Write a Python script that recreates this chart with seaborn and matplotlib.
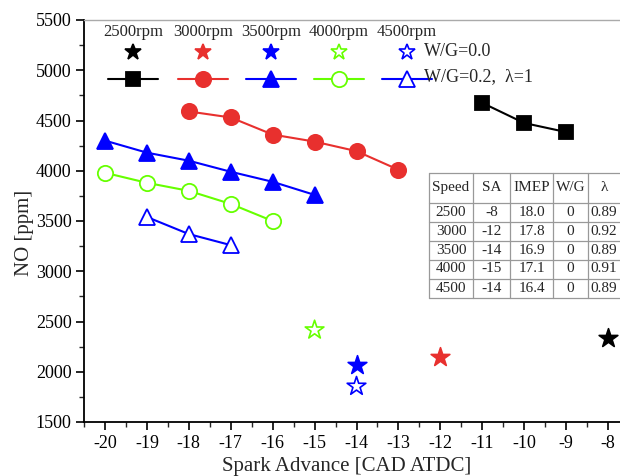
import matplotlib
matplotlib.use("Agg")
import matplotlib.pyplot as plt
import seaborn as sns
import pandas as pd
from matplotlib.ticker import MultipleLocator
from matplotlib.lines import Line2D

sns.set_theme(style="white")
plt.rcParams['font.family'] = ['Liberation Serif', 'DejaVu Serif']
plt.rcParams['axes.unicode_minus'] = False

# W/G=0.2, lambda=1 sweeps
sa_2500 = [-11, -10, -9]
no_2500 = [4675, 4475, 4385]
sa_3000 = [-18, -17, -16, -15, -14, -13]
no_3000 = [4590, 4530, 4360, 4290, 4195, 4010]
sa_3500 = [-20, -19, -18, -17, -16, -15]
no_3500 = [4300, 4180, 4100, 3990, 3890, 3760]
sa_4000 = [-20, -19, -18, -17, -16]
no_4000 = [3980, 3880, 3800, 3670, 3500]
sa_4500 = [-19, -18, -17]
no_4500 = [3540, 3370, 3260]

# W/G=0.0 points (stars)
star_speed = ["2500", "3000", "3500", "4000", "4500"]
star_sa = [-8, -12, -14, -15, -14]
star_no = [2340, 2150, 2070, 2415, 1855]

speed_labels = ["2500rpm", "3000rpm", "3500rpm", "4000rpm", "4500rpm"]

table_header = ["Speed", "SA", "IMEP", "W/G", "λ"]
table_rows = [
    ["2500", "-8", "18.0", "0", "0.89"],
    ["3000", "-12", "17.8", "0", "0.92"],
    ["3500", "-14", "16.9", "0", "0.89"],
    ["4000", "-15", "17.1", "0", "0.91"],
    ["4500", "-14", "16.4", "0", "0.89"],
]

colors = ["black", "#e8302e", "#0000ff", "#66ff00", "#0000ff"]
line_markers = ["s", "o", "^", "o", "^"]
line_fill = [True, True, True, False, False]
line_ms = [10, 11, 12, 11, 12]
star_fill = [True, True, True, False, False]

W, H = 620, 476
fig = plt.figure(figsize=(W / 100, H / 100), dpi=100)
ax = fig.add_axes([84 / W, 1 - 422 / H, 545 / W, 402 / H])

series = [(sa_2500, no_2500), (sa_3000, no_3000), (sa_3500, no_3500),
          (sa_4000, no_4000), (sa_4500, no_4500)]
for i, (xs, ys) in enumerate(series):
    df = pd.DataFrame({"SA": xs, "NO": ys})
    sns.lineplot(data=df, x="SA", y="NO", ax=ax, color=colors[i], lw=1.5,
                 marker=line_markers[i], markersize=line_ms[i],
                 markerfacecolor=colors[i] if line_fill[i] else "white",
                 markeredgecolor=colors[i], markeredgewidth=1.3)

for i in range(5):
    df = pd.DataFrame({"SA": [star_sa[i]], "NO": [star_no[i]]})
    sns.scatterplot(data=df, x="SA", y="NO", ax=ax, marker="*", s=200,
                    color=colors[i] if star_fill[i] else "none",
                    edgecolor=colors[i], linewidth=1.2, zorder=5)

ax.set_xlim(-20.5, -7.5)
ax.set_ylim(1500, 5500)
ax.xaxis.set_major_locator(MultipleLocator(1))
ax.xaxis.set_minor_locator(MultipleLocator(0.5))
ax.yaxis.set_major_locator(MultipleLocator(500))
ax.yaxis.set_minor_locator(MultipleLocator(250))
ax.tick_params(axis="both", which="major", direction="out", length=6, width=1.2,
               labelsize=13, colors="black", bottom=True, left=True, pad=3)
ax.tick_params(axis="both", which="minor", direction="out", length=3.5, width=1.0,
               bottom=True, left=True)
for s in ["left", "bottom"]:
    ax.spines[s].set_color("black")
    ax.spines[s].set_linewidth(1.3)
for s in ["top", "right"]:
    ax.spines[s].set_color("#aaaaaa")
    ax.spines[s].set_linewidth(1.0)
ax.set_xlabel("Spark Advance [CAD ATDC]", fontsize=15, va="center")
ax.set_ylabel("NO [ppm]", fontsize=15, va="center")
ax.xaxis.set_label_coords((347 - 84) / 545, (422 - 466) / 402)
ax.yaxis.set_label_coords((25 - 84) / 545, (422 - 233) / 402)

# custom legend
col_x = [133, 203, 271, 339, 407]
def fx(px):
    return px / W
def fy(py):
    return 1 - py / H
for i in range(5):
    fig.text(fx(col_x[i]), fy(32), speed_labels[i], fontsize=12, ha="center", va="center")
    fig.add_artist(Line2D([fx(col_x[i])], [fy(52)], marker="*", markersize=12,
                          markerfacecolor=colors[i] if star_fill[i] else "white",
                          markeredgecolor=colors[i], markeredgewidth=1.2, lw=0))
    fig.add_artist(Line2D([fx(col_x[i] - 25), fx(col_x[i] + 25)], [fy(79), fy(79)],
                          color=colors[i], lw=1.5))
    fig.add_artist(Line2D([fx(col_x[i])], [fy(79)], marker=line_markers[i],
                          markersize=line_ms[i],
                          markerfacecolor=colors[i] if line_fill[i] else "white",
                          markeredgecolor=colors[i], markeredgewidth=1.3, lw=0))
fig.text(fx(424), fy(52), "W/G=0.0", fontsize=13, ha="left", va="center")
fig.text(fx(424), fy(77), "W/G=0.2,  λ=1", fontsize=13, ha="left", va="center")

# table drawn manually
col_edges = [429, 473, 510, 553, 588, 630]
row_edges = [173, 202.5, 221.5, 240.5, 259.5, 278.5, 297.5]
gc = "#999999"
for xe in col_edges:
    fig.add_artist(Line2D([fx(xe), fx(xe)], [fy(row_edges[0]), fy(row_edges[-1])],
                          color=gc, lw=0.9))
for ye in row_edges:
    fig.add_artist(Line2D([fx(col_edges[0]), fx(col_edges[-1])], [fy(ye), fy(ye)],
                          color=gc, lw=0.9))
all_rows = [table_header] + table_rows
for r, row in enumerate(all_rows):
    yc = (row_edges[r] + row_edges[r + 1]) / 2
    for c, val in enumerate(row):
        xc = (col_edges[c] + min(col_edges[c + 1], 620)) / 2
        fig.text(fx(xc), fy(yc), val, fontsize=11, ha="center", va="center")

fig.savefig("out.png", dpi=100)
